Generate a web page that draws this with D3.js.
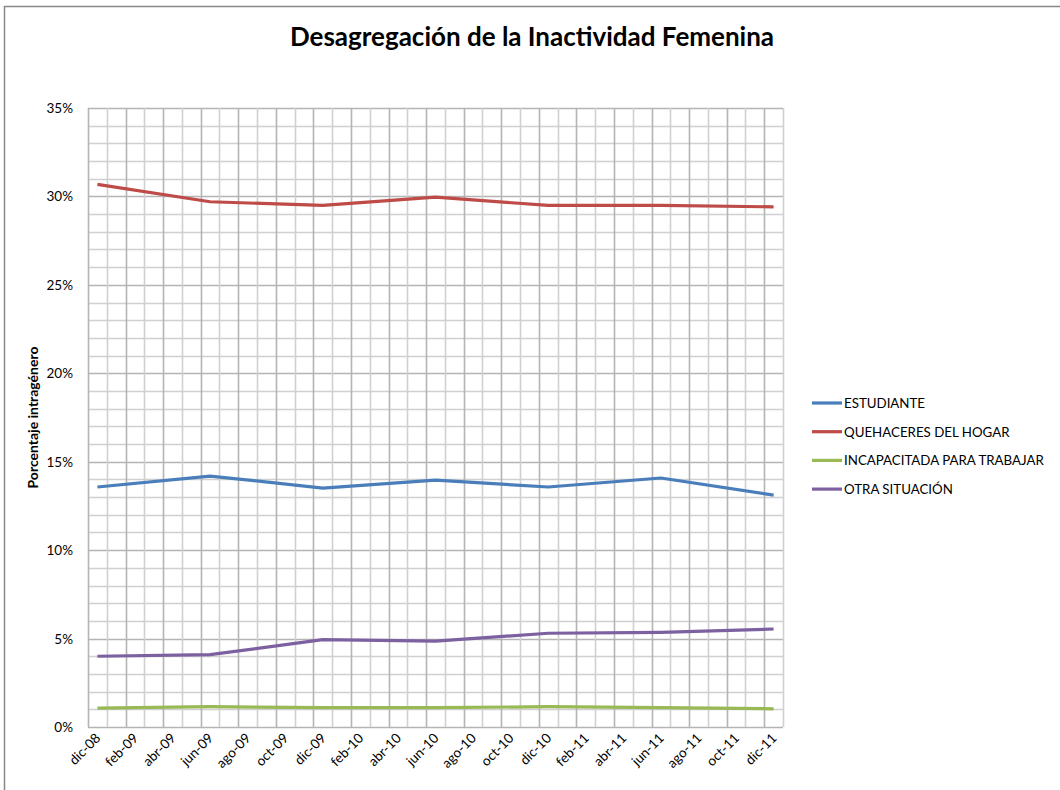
<!DOCTYPE html>
<html>
<head>
<meta charset="utf-8">
<script src="https://cdn.jsdelivr.net/npm/d3@7"></script>
<style>
  body { margin: 0; background: #fff; }
  text { font-family: Lato, "Liberation Sans", sans-serif; fill: #000; }
</style>
</head>
<body>
<svg id="chart" width="1060" height="790"></svg>
<script>
// months on the category axis (one band per month)
let months = [];
let monthNames = ["ene", "feb", "mar", "abr", "may", "jun", "jul", "ago", "sep", "oct", "nov", "dic"];
months.push("dic-08");
for (let yr of ["09", "10", "11"]) {
  for (let m of monthNames) months.push(m + "-" + yr);
}

// dates that carry an observation
let obsDates = ["dic-08", "jun-09", "dic-09", "jun-10", "dic-10", "jun-11", "dic-11"];

let seriesNames = ["ESTUDIANTE", "QUEHACERES  DEL HOGAR", "INCAPACITADA PARA TRABAJAR", "OTRA SITUACIÓN"];
let seriesColors = ["#4a7ebb", "#be4b48", "#98b954", "#7d60a0"];

let estudiante = [13.57, 14.19, 13.51, 13.96, 13.57, 14.08, 13.11];
let quehaceres = [30.68, 29.70, 29.49, 29.96, 29.49, 29.49, 29.41];
let incapacitada = [1.07, 1.15, 1.09, 1.09, 1.15, 1.10, 1.03];
let otra = [4.00, 4.09, 4.94, 4.86, 5.30, 5.35, 5.54];

let seriesValues = [estudiante, quehaceres, incapacitada, otra];

let yTicks = [0, 5, 10, 15, 20, 25, 30, 35];

var svg = d3.select("#chart");

// outer chart border
svg.append("rect")
  .attr("x", 4.5).attr("y", 6.5)
  .attr("width", 1100).attr("height", 900)
  .attr("fill", "none")
  .attr("stroke", "#878787")
  .attr("stroke-width", 1.5);

let plot = { left: 88, right: 783, top: 108, bottom: 727 };

let x = d3.scaleBand()
  .domain(months)
  .range([plot.left, plot.right])
  .paddingInner(0).paddingOuter(0);

let y = d3.scaleLinear()
  .domain([0, 35])
  .range([plot.bottom, plot.top]);

// GRIDLINES
let grid = svg.append("g").attr("class", "grid");

// horizontal: every 1 %
grid.selectAll("line.h")
  .data(d3.range(0, 36))
  .enter().append("line")
  .attr("class", "h")
  .attr("x1", plot.left).attr("x2", plot.right)
  .attr("y1", d => Math.round(y(d)) + 0.5)
  .attr("y2", d => Math.round(y(d)) + 0.5)
  .attr("stroke", d => d % 5 == 0 ? "#b4b4b4" : "#d0d0d0")
  .attr("stroke-width", 1.6);

// vertical: at every band boundary
let bounds = months.map(m => x(m)).concat([plot.right]);
grid.selectAll("line.v")
  .data(bounds)
  .enter().append("line")
  .attr("class", "v")
  .attr("x1", d => Math.round(d) + 0.5)
  .attr("x2", d => Math.round(d) + 0.5)
  .attr("y1", plot.top).attr("y2", plot.bottom)
  .attr("stroke", (d, i) => i % 2 == 0 ? "#b4b4b4" : "#d0d0d0")
  .attr("stroke-width", 1.6);

// Y AXIS LABELS
svg.append("g")
  .selectAll("text")
  .data(yTicks)
  .enter().append("text")
  .attr("x", 73)
  .attr("y", d => y(d) + 5)
  .attr("text-anchor", "end")
  .style("font-size", "13.5px")
  .text(d => d + "%");

// X AXIS LABELS (every 2 months)
svg.append("g")
  .selectAll("text")
  .data(months.filter((m, i) => i % 2 == 0))
  .enter().append("text")
  .attr("transform", d => "translate(" + (x(d) + x.bandwidth() / 2 + 4) + "," + 739 + ") rotate(-45)")
  .attr("text-anchor", "end")
  .style("font-size", "13.5px")
  .text(d => d);

// LINES
let line = d3.line()
  .x(d => x(d.date) + x.bandwidth() / 2)
  .y(d => y(d.value));

seriesValues.forEach(function(vals, i) {
  let pts = obsDates.map((dt, j) => ({ date: dt, value: vals[j] }));
  svg.append("path")
    .datum(pts)
    .attr("fill", "none")
    .attr("stroke", seriesColors[i])
    .attr("stroke-width", 3.2)
    .attr("stroke-linejoin", "round")
    .attr("d", line);
});

// TITLE
svg.append("text")
  .attr("x", 532).attr("y", 46)
  .attr("text-anchor", "middle")
  .style("font-size", "26px")
  .style("font-weight", "bold")
  .text("Desagregación de la Inactividad Femenina");

// Y AXIS TITLE
svg.append("text")
  .attr("transform", "translate(38," + ((plot.top + plot.bottom) / 2) + ") rotate(-90)")
  .attr("text-anchor", "middle")
  .style("font-size", "14px")
  .style("font-weight", "bold")
  .text("Porcentaje intragénero");

// LEGEND
let legend = svg.append("g").attr("class", "legend");
seriesNames.forEach(function(name, i) {
  let ly = 403 + i * 28.7;
  legend.append("line")
    .attr("x1", 812).attr("x2", 842)
    .attr("y1", ly).attr("y2", ly)
    .attr("stroke", seriesColors[i])
    .attr("stroke-width", 3.2);
  legend.append("text")
    .attr("x", 844).attr("y", ly + 4.8)
    .style("font-size", "13.3px")
    .text(name);
});
</script>
</body>
</html>
